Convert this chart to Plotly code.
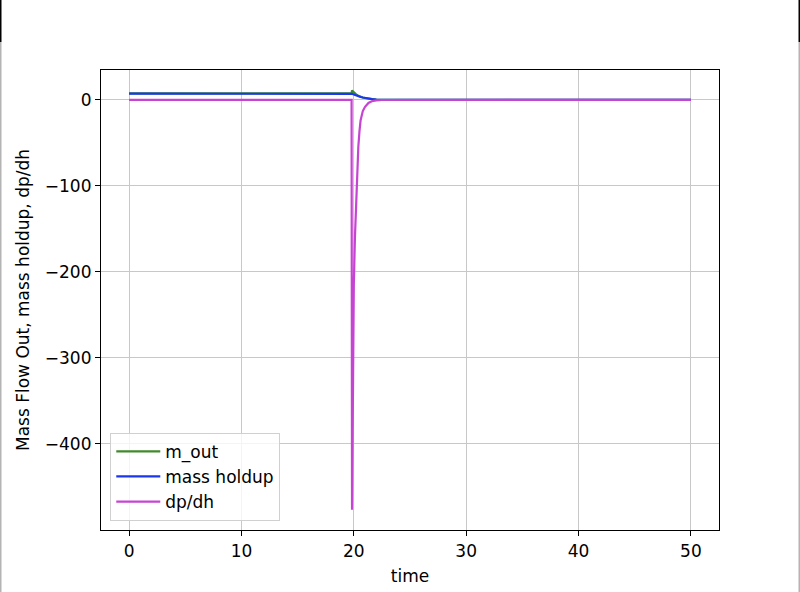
import plotly.graph_objects as go

# ---- data ----
t_m_out = [0, 19.8, 19.84, 20.0, 20.2, 20.4, 20.6, 20.8, 21.0, 21.3, 21.6, 22.0, 22.5, 50]
m_out = [7.5, 7.5, 11.0, 8.6, 6.4, 4.8, 3.6, 2.8, 2.2, 1.5, 1.0, 0.5, 0.15, 0]

t_holdup = [0, 19.8, 19.84, 20.0, 20.2, 20.4, 20.6, 20.8, 21.0, 21.3, 21.6, 22.0, 22.5, 50]
mass_holdup = [7.2, 7.2, 7.1, 6.2, 5.1, 4.2, 3.4, 2.8, 2.2, 1.5, 1.0, 0.5, 0.15, 0]

t_dpdh = [0, 19.8, 19.84, 19.9, 19.95, 20.0, 20.1, 20.2, 20.3, 20.4, 20.5, 20.6,
          20.8, 21.0, 21.3, 21.6, 22.0, 22.5, 50]
dp_dh = [0, 0, -477, -340, -256, -215, -160, -116, -82, -55, -37, -24,
         -13, -8, -3.5, -1.5, -0.5, -0.1, 0]

x_ticks = [0, 10, 20, 30, 40, 50]
y_ticks = [0, -100, -200, -300, -400]

FONT = "DejaVu Sans"

fig = go.Figure()
fig.add_trace(go.Scatter(x=t_m_out, y=m_out, mode="lines", name="m_out",
                         line=dict(color="#3f8a2c", width=2.2)))
fig.add_trace(go.Scatter(x=t_holdup, y=mass_holdup, mode="lines", name="mass holdup",
                         line=dict(color="#1b36f2", width=2.2)))
fig.add_trace(go.Scatter(x=t_dpdh, y=dp_dh, mode="lines", name="dp/dh",
                         line=dict(color="#c644d2", width=2.2)))

axis_common = dict(
    showline=True, linecolor="black", linewidth=1.2, mirror=True,
    showgrid=True, gridcolor="#c8c8c8", gridwidth=1,
    zeroline=False, ticks="outside", ticklen=5, tickcolor="black", tickwidth=1.2,
    tickfont=dict(family=FONT, size=17, color="black"),
)

fig.update_xaxes(range=[-2.5, 52.5], tickvals=x_ticks,
                 title=dict(text="time", font=dict(family=FONT, size=17, color="black"), standoff=10),
                 **axis_common)
fig.update_yaxes(range=[-500.5, 34.8], tickvals=y_ticks,
                 ticktext=[("\u2212" + str(-v)) if v < 0 else str(v) for v in y_ticks],
                 title=dict(text="Mass Flow Out, mass holdup, dp/dh",
                            font=dict(family=FONT, size=17, color="black"), standoff=10),
                 **axis_common)

# window frame decoration seen in the reference
L, R, T, B = 101, 81, 70, 62
W, H = 800, 592
pw, ph = W - L - R, H - T - B
def px(x):
    return (x - L) / pw
def py(y):
    return 1 - (y - T) / ph
shapes = [
    dict(type="line", xref="paper", yref="paper", x0=px(0.75), x1=px(0.75), y0=py(0), y1=py(42),
         line=dict(color="black", width=1.5)),
    dict(type="line", xref="paper", yref="paper", x0=px(799.25), x1=px(799.25), y0=py(0), y1=py(42),
         line=dict(color="black", width=1.5)),
    dict(type="line", xref="paper", yref="paper", x0=px(0.75), x1=px(0.75), y0=py(42), y1=py(592),
         line=dict(color="#b4b4b4", width=1.5)),
    dict(type="line", xref="paper", yref="paper", x0=px(799.25), x1=px(799.25), y0=py(42), y1=py(592),
         line=dict(color="#b4b4b4", width=1.5)),
]

fig.update_layout(
    width=W, height=H,
    margin=dict(l=L, r=R, t=T, b=B, autoexpand=False),
    paper_bgcolor="white", plot_bgcolor="white",
    font=dict(family=FONT, size=17, color="black"),
    showlegend=True,
    legend=dict(x=0.015, y=0.02, xanchor="left", yanchor="bottom",
                bgcolor="rgba(255,255,255,0.8)", bordercolor="#d0d0d0", borderwidth=1,
                font=dict(family=FONT, size=17, color="black"),
                tracegroupgap=0, itemwidth=44),
    shapes=shapes,
)

fig.write_html("out.html", config={"displayModeBar": False},
               post_script="document.body.style.margin='0';document.body.style.padding='0';")
